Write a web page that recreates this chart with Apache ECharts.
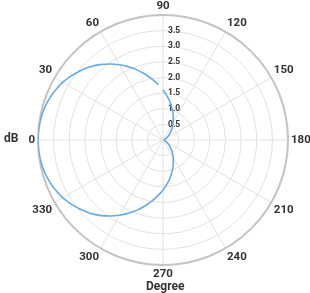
<!DOCTYPE html>
<html>
<head>
<meta charset="utf-8">
<script src="https://cdn.jsdelivr.net/npm/echarts@6/dist/echarts.min.js"></script>
<style>html,body{margin:0;padding:0;background:#fff;}#c{width:310px;height:293px;}</style>
</head>
<body>
<div id="c"></div>
<script>
var angles = [0,5,10,15,20,25,30,35,40,45,50,55,60,65,70,75,80,85,90,95,100,105,110,115,120,125,130,135,140,145,150,155,160,165,170,175,180,
185,190,195,200,205,210,215,220,225,230,235,240,245,250,255,260,265,270,275,280,285,290,295,300,305,310,315,320,325,330,335,340,345,350,355,360];
var radii = [4.00,3.99,3.97,3.93,3.87,3.79,3.70,3.58,3.45,3.31,3.15,2.97,2.78,2.58,2.38,2.17,1.97,1.78,1.60,1.42,1.25,1.08,0.93,0.78,0.65,0.53,0.42,0.33,0.25,0.18,0.13,0.09,0.06,0.05,0.04,0.04,0.04,
0.04,0.04,0.05,0.06,0.09,0.13,0.18,0.25,0.33,0.42,0.53,0.65,0.78,0.93,1.08,1.25,1.42,1.60,1.78,1.97,2.17,2.38,2.58,2.78,2.97,3.15,3.31,3.45,3.58,3.70,3.79,3.87,3.93,3.97,3.99,4.00];
var angleTicks = [0,30,60,90,120,150,180,210,240,270,300,330];
var radiusTicks = [0.5,1.0,1.5,2.0,2.5,3.0,3.5];
var angleName = 'Degree';
var radiusName = 'dB';

var data = angles.map(function(a,i){ var v = a < 90 ? a + 360 : a; return [radii[i], v]; });
data.sort(function(p,q){ return p[1]-q[1]; });
var font = 'Roboto, "Liberation Sans", sans-serif';
var chart = echarts.init(document.getElementById('c'), null, {renderer:'canvas'});
chart.setOption({
  animation:false,
  polar:{center:[163,140], radius:125},
  angleAxis:{
    type:'value', min:90, max:450, interval:30, startAngle:90, clockwise:true,
    axisLine:{show:true, lineStyle:{color:'#c4c4c4', width:2}},
    axisTick:{show:false},
    axisLabel:{show:true, margin:3, color:'#333333', fontWeight:'bold', fontSize:11.5, fontFamily:font,
      formatter:function(v){ var m = v % 360; return angleTicks.indexOf(m) >= 0 ? String(m) : ''; }},
    splitLine:{show:true, lineStyle:{color:'#e2e2e2', width:1}}
  },
  radiusAxis:{
    type:'value', min:0, max:4, interval:0.5,
    axisLine:{show:false}, axisTick:{show:false},
    axisLabel:{show:true, color:'#333333', fontWeight:'bold', fontSize:8.5, fontFamily:font, margin:0, align:'left',
      padding:[0,0,0,5], showMinLabel:false, showMaxLabel:false,
      formatter:function(v){ return radiusTicks.indexOf(v) >= 0 ? v.toFixed(1) : ''; }},
    splitLine:{show:true, lineStyle:{color:'#e2e2e2', width:1}}
  },
  series:[{type:'line', coordinateSystem:'polar', data:data, showSymbol:false, smooth:true,
    lineStyle:{color:'#6aa9dc', width:1.6}}],
  graphic:[
    {type:'text', left:4, top:133, style:{text:radiusName, font:'bold 12px '+font, fill:'#333333'}},
    {type:'text', left:146, top:281, style:{text:angleName, font:'bold 12px '+font, fill:'#333333'}}
  ]
});
</script>
</body>
</html>
